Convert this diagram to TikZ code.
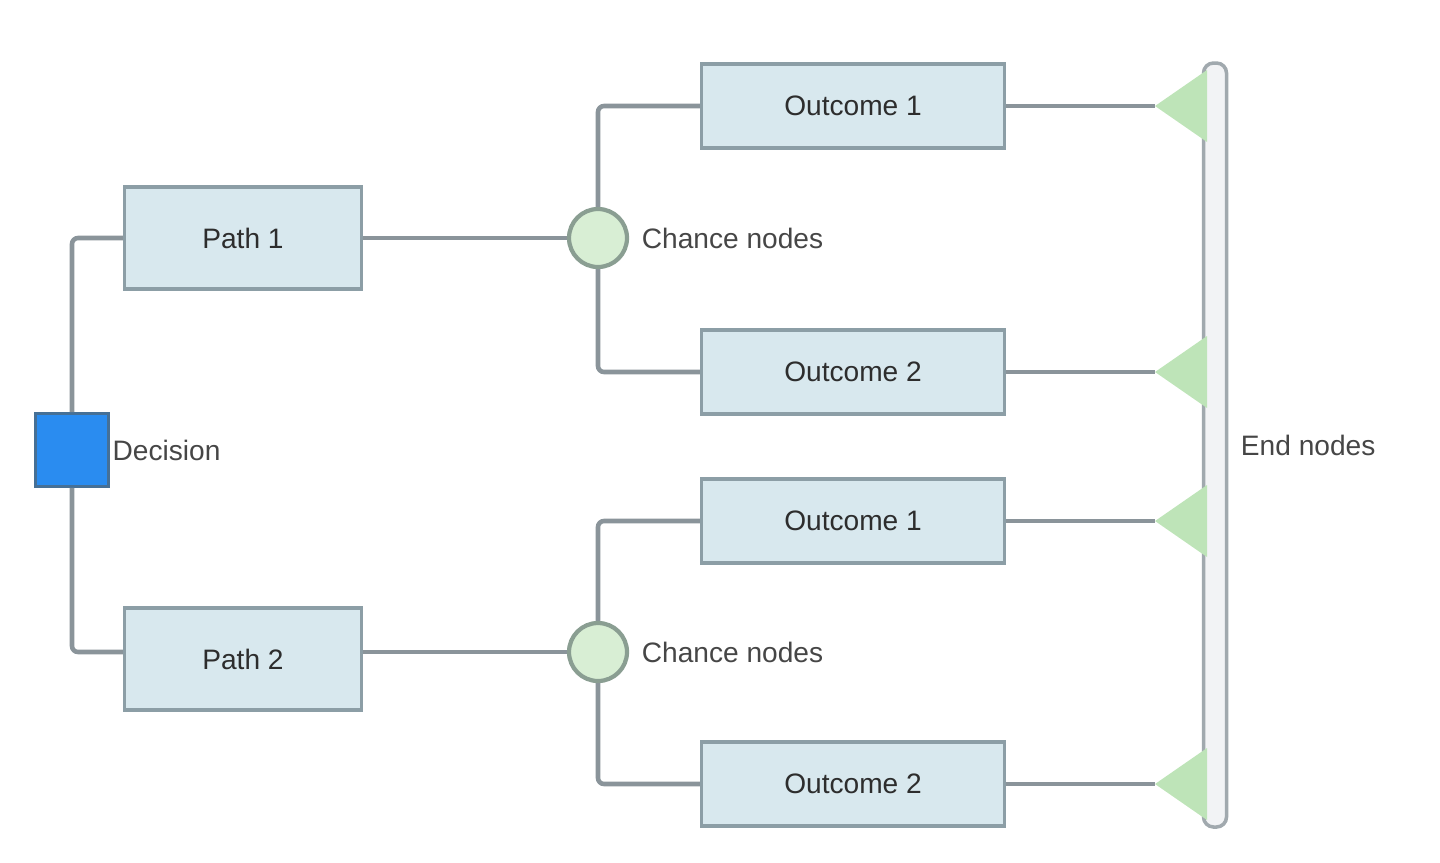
\documentclass[tikz,border=0pt]{standalone}
\usepackage{fontspec}
\setmainfont{Liberation Sans}
\usepackage{tikz}
\usetikzlibrary{positioning}

\definecolor{boxfill}{RGB}{216,232,238}
\definecolor{boxline}{RGB}{140,158,166}
\definecolor{connline}{RGB}{138,148,154}
\definecolor{decfill}{RGB}{42,140,240}
\definecolor{decline}{RGB}{70,112,150}
\definecolor{chfill}{RGB}{216,238,212}
\definecolor{chline}{RGB}{138,158,146}
\definecolor{endfill}{RGB}{190,228,184}
\definecolor{barfill}{RGB}{242,243,245}
\definecolor{txt}{RGB}{45,45,45}
\definecolor{lbl}{RGB}{70,70,70}

\tikzset{
  pathbox/.style={draw=boxline, fill=boxfill, line width=0.9pt,
    minimum width=23.7mm, minimum height=10.2mm, text=txt, font=\fontsize{8}{9}\selectfont},
  outbox/.style={pathbox, minimum width=30.3mm, minimum height=8.4mm},
  decbox/.style={draw=decline, fill=decfill, line width=0.8pt, minimum size=7.3mm, inner sep=0pt},
  chancenode/.style={circle, draw=chline, fill=chfill, line width=1.2pt, minimum size=5.8mm, inner sep=0pt},
  endbar/.style={draw=connline!80, fill=barfill, line width=1pt, rounded corners=1mm,
    minimum width=2.3mm, minimum height=76.4mm, inner sep=0pt},
  conn/.style={draw=connline, line width=1.3pt, rounded corners=0.6mm},
  tag/.style={text=lbl, font=\fontsize{8}{9}\selectfont, inner sep=0pt, anchor=west}
}

\begin{document}
\begin{tikzpicture}[x=0.1mm,y=-0.1mm]
  \useasboundingbox (0,0) rectangle (1440,862);

  % Decision
  \node[decbox] (dec) at (72,450) {};
  \node[tag] (declbl) at ([xshift=0.2mm]dec.east) {Decision};

  % Paths
  \node[pathbox] (p1) at (243,238) {Path 1};
  \node[pathbox] (p2) at (243,659) {Path 2};

  % Chance nodes
  \node[chancenode] (c1) at (598,238) {};
  \node[chancenode] (c2) at (598,652) {};
  \node[tag] (c1lbl) at ([xshift=1.2mm]c1.east) {Chance nodes};
  \node[tag] (c2lbl) at ([xshift=1.2mm]c2.east) {Chance nodes};

  % Outcomes
  \node[outbox] (o1) at (853,106) {Outcome 1};
  \node[outbox] (o2) at (853,372) {Outcome 2};
  \node[outbox] (o3) at (853,521) {Outcome 1};
  \node[outbox] (o4) at (853,784) {Outcome 2};

  % End nodes
  \node[endbar] (bar) at (1215,445) {};
  \node[tag] (barlbl) at ([xshift=1.2mm]bar.east) {End nodes};
  \coordinate (e1) at (1155,106);
  \coordinate (e2) at (1155,372);
  \coordinate (e3) at (1155,521);
  \coordinate (e4) at (1155,784);
  \foreach \e in {e1,e2,e3,e4}
    \fill[endfill] (\e) -- ++(52,-36) -- ++(0,72) -- cycle;

  % Connectors
  \draw[conn] (dec.north) |- (p1.west);
  \draw[conn] (dec.south) |- (c2.west -| p2.west);
  \draw[conn] (p1.east) -- (c1.west);
  \draw[conn] (c2.west -| p2.east) -- (c2.west);
  \draw[conn] (c1.north) |- (o1.west);
  \draw[conn] (c1.south) |- (o2.west);
  \draw[conn] (c2.north) |- (o3.west);
  \draw[conn] (c2.south) |- (o4.west);
  \draw[conn] (o1.east) -- (e1);
  \draw[conn] (o2.east) -- (e2);
  \draw[conn] (o3.east) -- (e3);
  \draw[conn] (o4.east) -- (e4);
\end{tikzpicture}
\end{document}
